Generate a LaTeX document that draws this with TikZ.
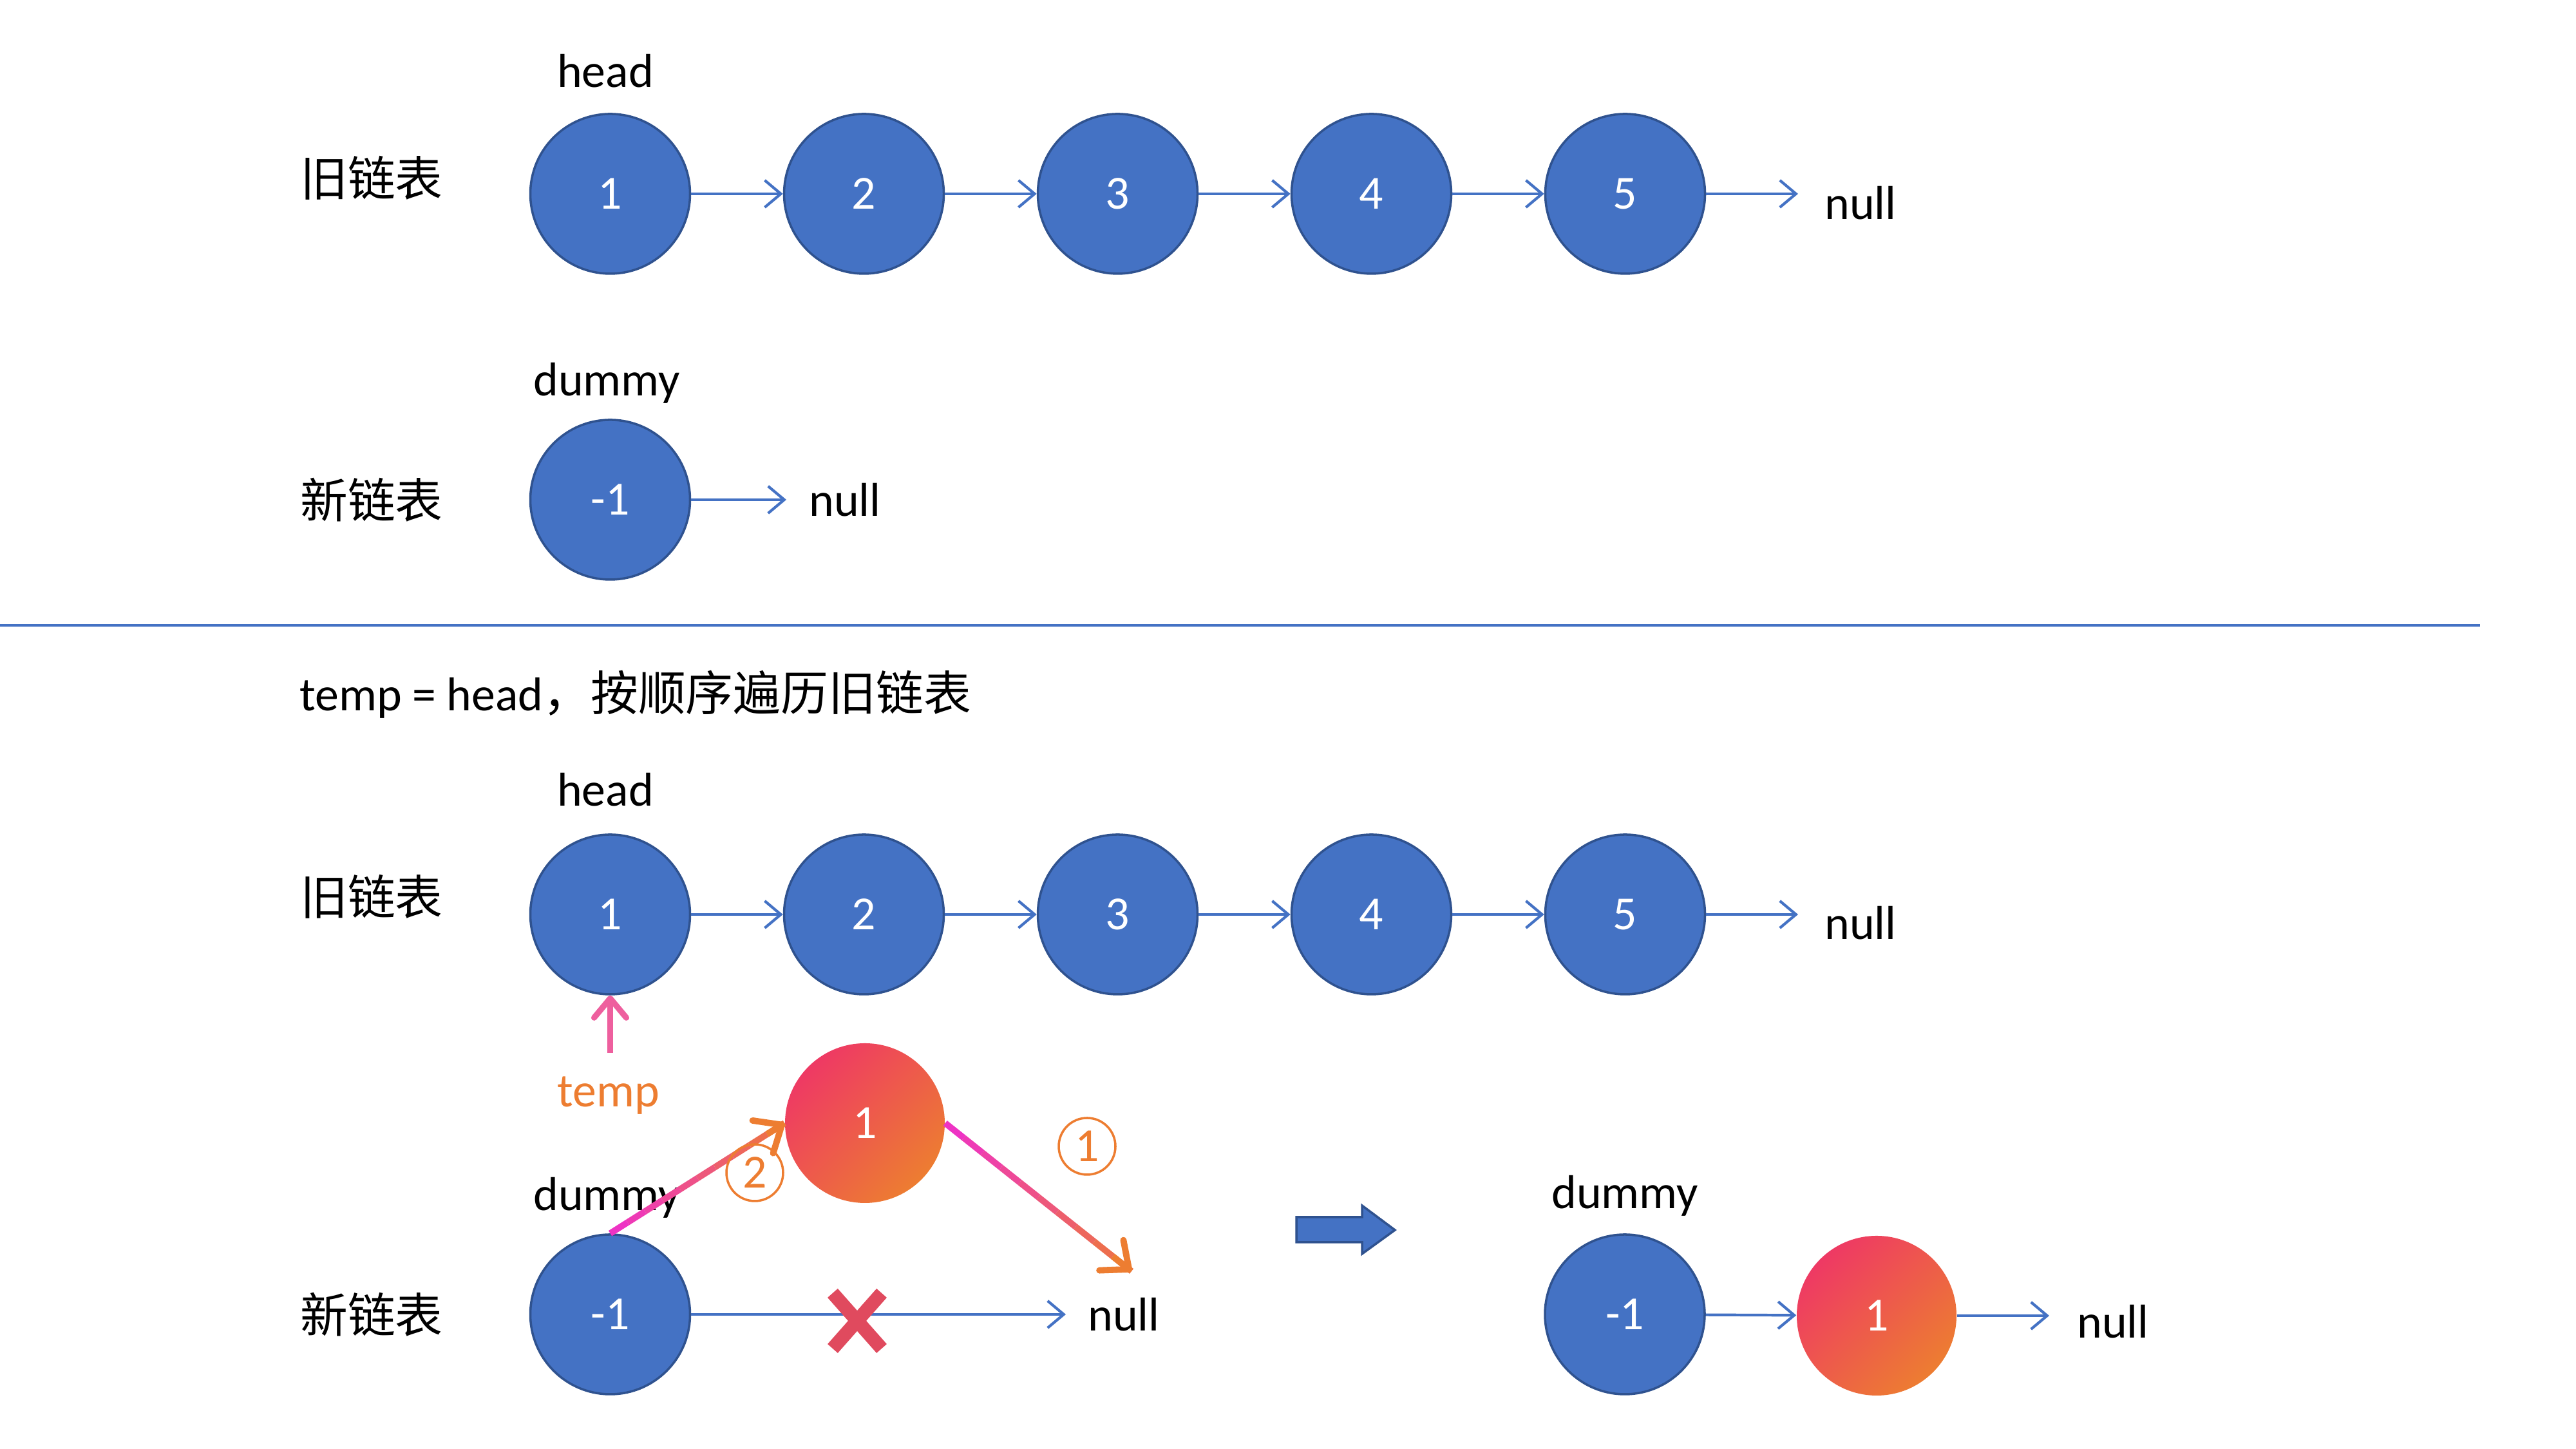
\documentclass[tikz,border=0pt]{standalone}
\usepackage{fontspec}
\setmainfont{Carlito}
\newfontfamily\cjk{Noto Sans CJK SC}
\usetikzlibrary{positioning,arrows.meta,calc,shapes.misc}

\definecolor{nodeblue}{HTML}{4472C4}
\definecolor{nodeborder}{HTML}{2F528F}
\definecolor{gradpink}{HTML}{EE3964}
\definecolor{gradorange}{HTML}{ED7D31}
\definecolor{linemag}{HTML}{EE33C4}
\definecolor{temppink}{HTML}{EE5F9E}
\definecolor{xred}{HTML}{E04A5E}

\tikzset{
	listnode/.style={circle,draw=nodeborder,line width=1pt,fill=nodeblue,text=white,minimum size=2.48cm,inner sep=0pt},
	newnode/.style={circle,top color=gradpink,bottom color=gradorange,shading angle=45,text=white,minimum size=2.48cm,inner sep=0pt},
	link/.style={draw=nodeblue,line width=1.2pt,-{Straight Barb[length=0.25cm,width=0.42cm]}},
	stepnum/.style={circle,draw=gradorange,text=gradorange,line width=1pt,minimum size=0.88cm,inner sep=0pt},
	bigtext/.style={font=\fontsize{21}{25}\selectfont}
}

\begin{document}
\begin{tikzpicture}[every node/.append style={bigtext}]
			\useasboundingbox (0,0) rectangle (40,22.5);
			
			\foreach \x in {1,...,5} {
				\node[listnode] (a\x) at (3.94 * \x + 5.535, 19.49) {\x};
				\node[listnode] (b\x) at (3.94 * \x + 5.535, 8.30) {\x};
			}
			\foreach \x/\y in {1/2,2/3,3/4,4/5} {
				\draw[link] (a\x) -- (a\y);
				\draw[link] (b\x) -- (b\y);
			}
			
			\node (oldtop) at (5.77, 19.74) {\cjk 旧链表};
			\node (headtop) at (9.40, 21.40) {head};
			\coordinate (anull) at (27.92, 19.49);
			\draw[link] (a5) -- (anull);
			\node[anchor=west] (anulltext) at (28.21, 19.35) {null};
			
			\node (newtop) at (5.77, 14.74) {\cjk 新链表};
			\node (dummytop) at (9.42, 16.55) {dummy};
			\node[listnode] (n0) at (9.475, 14.74) {-1};
			\coordinate (nnull) at (12.21, 14.74);
			\draw[link] (n0) -- (nnull);
			\node[anchor=west] (nnulltext) at (12.44, 14.74) {null};
			
			\draw[nodeblue, line width=1.2pt] (0, 12.79) -- (38.51, 12.79);
			\node[anchor=west] (title) at (4.53, 11.72) {temp = head{\cjk ，按顺序遍历旧链表}};
			
			\node (oldbot) at (5.77, 8.58) {\cjk 旧链表};
			\node (headbot) at (9.40, 10.24) {head};
			\coordinate (bnull) at (27.92, 8.30);
			\draw[link] (b5) -- (bnull);
			\node[anchor=west] (bnulltext) at (28.21, 8.17) {null};
			
			\coordinate (tempfoot) at (9.475, 6.15);
			\draw[temppink, line width=2.6pt, -{Straight Barb[length=0.3cm,width=0.5cm,round]}] (tempfoot) -- (b1.south);
			\node[text=gradorange] (temp) at (9.45, 5.49) {temp};
			
			\node[newnode] (g) at (13.43, 5.06) {1};
			
			\node (newbot) at (5.77, 2.09) {\cjk 新链表};
			\node (dummybot) at (9.42, 3.90) {dummy};
			\node[listnode] (c0) at (9.475, 2.09) {-1};
			\coordinate (cnull) at (16.55, 2.09);
			\draw[link] (c0) -- (cnull);
			\node[anchor=west] (cnulltext) at (16.77, 2.09) {null};
			\node[cross out, draw=xred, line width=6pt, minimum width=0.55cm, minimum height=0.65cm, inner sep=0pt] (cut) at (13.31, 1.99) {};
			
			\coordinate (gnull) at (17.57, 2.76);
			\foreach \i [evaluate=\i as \p using int(100-10*\i), evaluate=\i as \j using \i+1] in {0,...,9} {
				\draw[line width=2.8pt, draw=linemag!\p!gradorange] ($(c0.north)!\i/10!(g.west)$) -- ($(c0.north)!\j/10!(g.west)$);
				\draw[line width=2.8pt, draw=linemag!\p!gradorange] ($(g.east)!\i/10!(gnull)$) -- ($(g.east)!\j/10!(gnull)$);
			}
			\draw[line width=2.8pt, gradorange, -{Straight Barb[length=0.35cm,width=0.6cm,round]}] ($(c0.north)!0.9!(g.west)$) -- (g.west);
			\draw[line width=2.8pt, gradorange, -{Straight Barb[length=0.35cm,width=0.6cm,round]}] ($(g.east)!0.9!(gnull)$) -- (gnull);
			\node[stepnum] (one) at (16.88, 4.70) {1};
			\node[stepnum] (two) at (11.72, 4.29) {2};
			
			\draw[fill=nodeblue, draw=nodeborder, line width=1pt] (20.13, 3.21) -- (21.15, 3.21) -- (21.15, 3.03) -- (21.66, 3.40) -- (21.15, 3.78) -- (21.15, 3.60) -- (20.13, 3.60) -- cycle;
			
			\node (dummyright) at (25.23, 3.93) {dummy};
			\node[listnode] (d0) at (25.23, 2.09) {-1};
			\node[newnode] (d1) at (29.14, 2.07) {1};
			\draw[link] (d0) -- (d1);
			\coordinate (dnull) at (31.82, 2.07);
			\draw[link] (d1) -- (dnull);
			\node[anchor=west] (dnulltext) at (32.13, 1.98) {null};
		\end{tikzpicture}
\end{document}
